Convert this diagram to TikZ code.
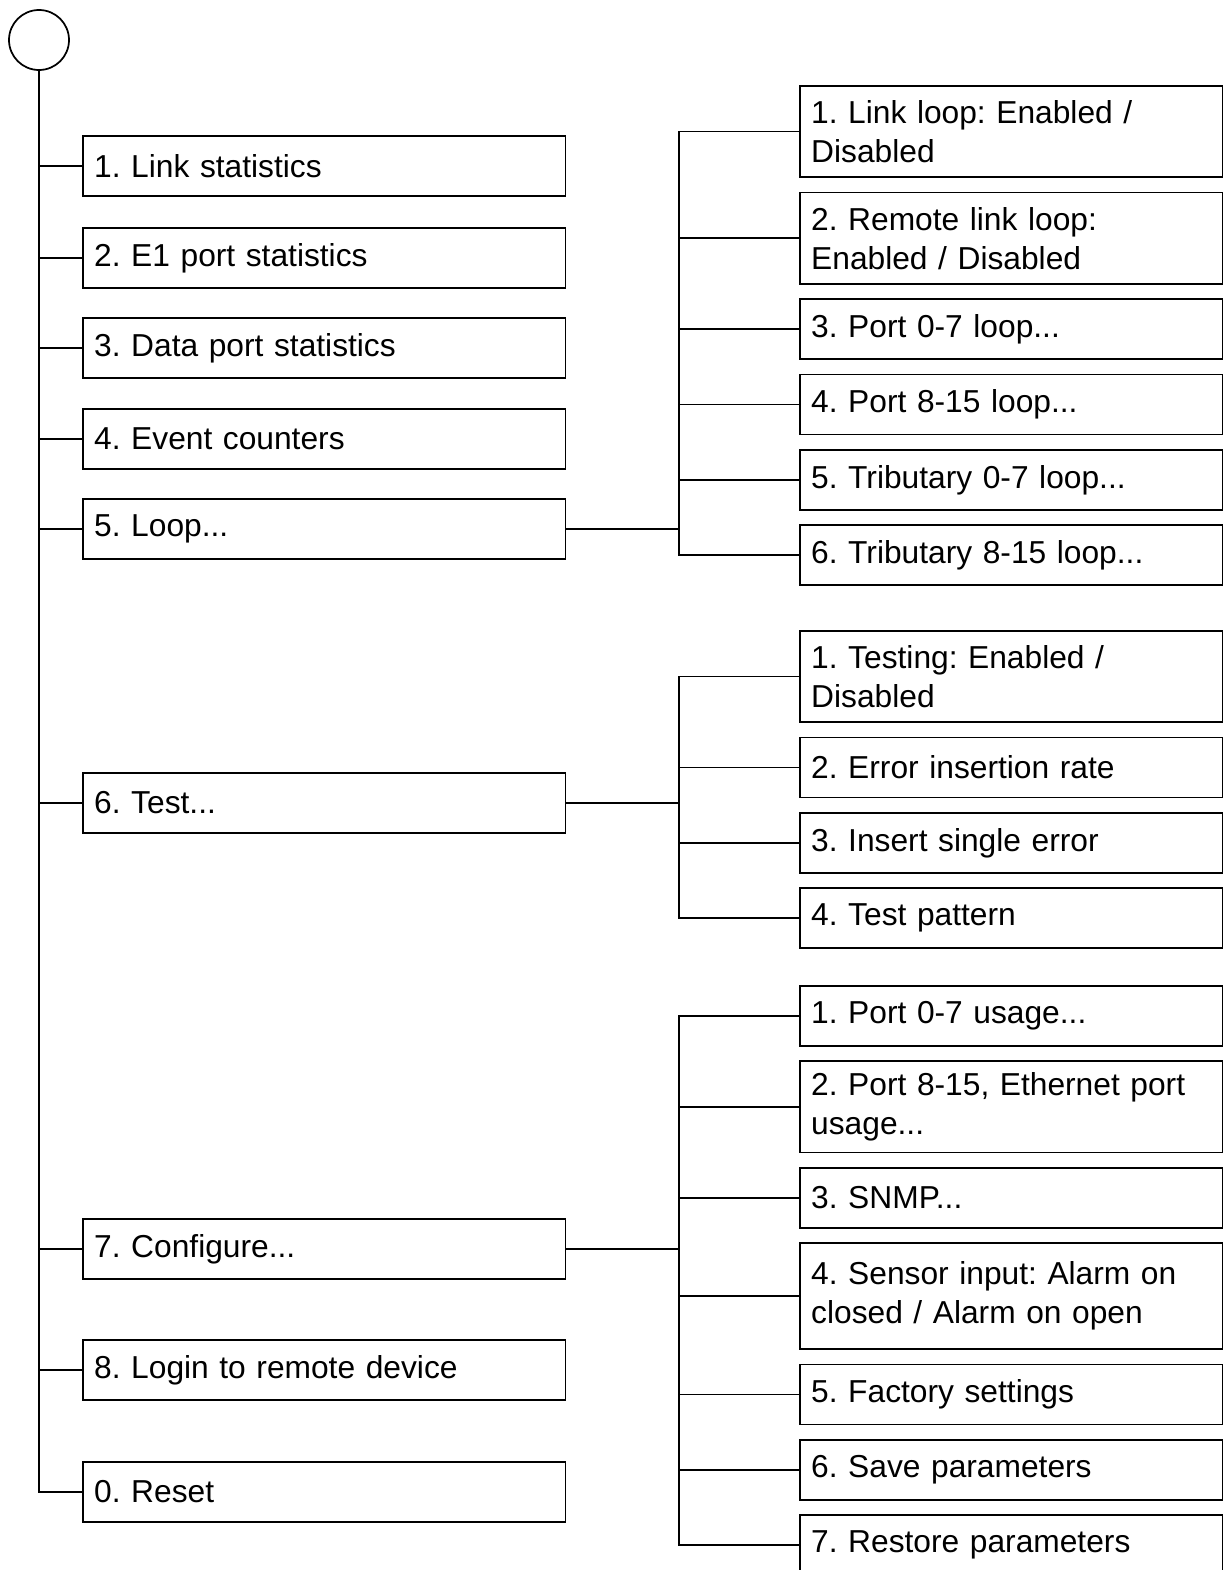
\documentclass[tikz,border=0pt]{standalone}
\usepackage{fontspec}
\setmainfont{Liberation Sans}
\usetikzlibrary{positioning}

\begin{document}
\frenchspacing
\begin{tikzpicture}[x=0.75pt,y=-0.75pt,node distance=10.2pt,line width=1.3pt,
 box/.style={draw,anchor=west,inner xsep=8.5pt,inner ysep=0pt,text width=345pt,
 minimum height=45pt,align=left,font=\fontsize{23.8pt}{29.25pt}\selectfont},
 sub/.style={box,text width=300pt},
 two/.style={minimum height=68.5pt},
 stem/.style={draw,line width=1.8pt}]
\useasboundingbox (0,0) rectangle (1223,1570);
\clip (0,0) rectangle (1223,1570);
% main menu
\node[draw,circle,minimum size=45pt,inner sep=0pt] (root) at (39,40) {};
\node[box] (stat) at (82,166) {1. Link statistics};
\node[box] (e1) at (82,258) {2. E1 port statistics};
\node[box] (data) at (82,348) {3. Data port statistics};
\node[box] (evt) at (82,439) {4. Event counters};
\node[box] (loop) at (82,529) {5. Loop...};
\node[box] (test) at (82,803) {6. Test...};
\node[box] (conf) at (82,1249) {7. Configure...};
\node[box] (login) at (82,1370) {8. Login to remote device};
\node[box] (rst) at (82,1492) {0. Reset};
% loop submenu
\node[sub,two,anchor=north west] (ll1) at (799,85) {1. Link loop: Enabled /\\Disabled};
\node[sub,two,below=of ll1] (ll2) {2. Remote link loop:\\Enabled / Disabled};
\node[sub,below=of ll2] (ll3) {3. Port 0-7 loop...};
\node[sub,below=of ll3] (ll4) {4. Port 8-15 loop...};
\node[sub,below=of ll4] (ll5) {5. Tributary 0-7 loop...};
\node[sub,below=of ll5] (ll6) {6. Tributary 8-15 loop...};
% test submenu
\node[sub,two,anchor=north west] (ts1) at (799,630) {1. Testing: Enabled /\\Disabled};
\node[sub,below=of ts1] (ts2) {2. Error insertion rate};
\node[sub,below=of ts2] (ts3) {3. Insert single error};
\node[sub,below=of ts3] (ts4) {4. Test pattern};
% configure submenu
\node[sub,anchor=north west] (cf1) at (799,985) {1. Port 0-7 usage...};
\node[sub,two,below=of cf1] (cf2) {2. Port 8-15, Ethernet port\\usage...};
\node[sub,below=of cf2] (cf3) {3. SNMP...};
\node[sub,minimum height=79.5pt,below=of cf3] (cf4) {4. Sensor input: Alarm on\\closed / Alarm on open};
\node[sub,below=of cf4] (cf5) {5. Factory settings};
\node[sub,below=of cf5] (cf6) {6. Save parameters};
\node[sub,below=of cf6] (cf7) {7. Restore parameters};
% connectors
\coordinate (bus) at (679,0);
\draw (root.south) |- (rst.west);
\foreach \n in {stat,e1,data,evt,loop,test,conf,login}
 \draw (\n.west) -- (\n.west -| root.south);
\draw[stem] (loop.east) -- (loop.east -| bus);
\draw[stem] (test.east) -- (test.east -| bus);
\draw[stem] (conf.east) -- (conf.east -| bus);
\draw (ll1.west) -- (ll1.west -| bus) -- (ll6.west -| bus) -- (ll6.west);
\draw (ts1.west) -- (ts1.west -| bus) -- (ts4.west -| bus) -- (ts4.west);
\draw (cf1.west) -- (cf1.west -| bus) -- (cf7.west -| bus) -- (cf7.west);
\foreach \n in {ll2,ll3,ll4,ll5,ts2,ts3,cf2,cf3,cf4,cf5,cf6}
 \draw (\n.west) -- (\n.west -| bus);
\end{tikzpicture}
\end{document}
